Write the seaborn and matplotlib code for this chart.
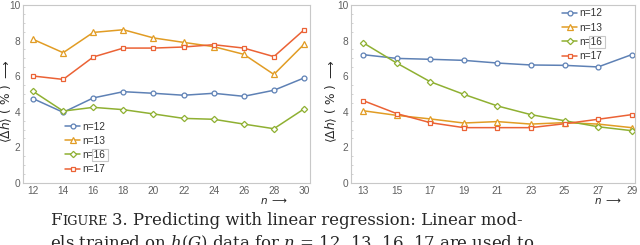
import matplotlib
matplotlib.use("Agg")
import matplotlib.pyplot as plt
import seaborn as sns
from matplotlib.ticker import MultipleLocator
from matplotlib.patches import Rectangle

# ---- data ----
series_labels = ["n=12", "n=13", "n=16", "n=17"]

x_left = [12, 14, 16, 18, 20, 22, 24, 26, 28, 30]
left_n12 = [4.74, 3.97, 4.78, 5.13, 5.04, 4.93, 5.04, 4.87, 5.21, 5.90]
left_n13 = [8.07, 7.32, 8.46, 8.61, 8.15, 7.90, 7.66, 7.23, 6.10, 7.79]
left_n16 = [5.15, 4.04, 4.25, 4.12, 3.88, 3.63, 3.58, 3.31, 3.05, 4.16]
left_n17 = [6.01, 5.82, 7.08, 7.58, 7.58, 7.64, 7.77, 7.58, 7.10, 8.60]

x_right = [13, 15, 17, 19, 21, 23, 25, 27, 29]
right_n12 = [7.21, 7.00, 6.95, 6.89, 6.74, 6.63, 6.61, 6.52, 7.21]
right_n13 = [4.06, 3.80, 3.60, 3.37, 3.45, 3.31, 3.39, 3.31, 3.11]
right_n16 = [7.88, 6.74, 5.69, 4.98, 4.33, 3.84, 3.50, 3.16, 2.94]
right_n17 = [4.63, 3.90, 3.39, 3.11, 3.11, 3.11, 3.33, 3.58, 3.84]

y_ticks = [0, 2, 4, 6, 8, 10]

caption_line2 = "els trained on $h(G)$ data for $n$ = 12, 13, 16, 17 are used to"

colors = ["#5E81B5", "#E19C24", "#8FB032", "#EB6235"]
markers = ["o", "^", "D", "s"]
msizes = [3.5, 4.0, 3.2, 3.4]

sns.set_style("white")
plt.rcParams["font.family"] = ["Liberation Sans", "DejaVu Sans"]
plt.rcParams["mathtext.fontset"] = "dejavusans"

W, H = 640, 245
fig = plt.figure(figsize=(6.4, 2.45), dpi=100)
ax1 = fig.add_axes([23 / W, 1 - 183 / H, (310 - 23) / W, 178 / H])
ax2 = fig.add_axes([351 / W, 1 - 183 / H, (635 - 351) / W, 178 / H])

frame_col = "#c8c8c8"
tick_col = "#606060"


def draw(ax, xs, ys_list, xlim, leg_anchor, ylab_x):
    for lab, ys, c, m, ms in zip(series_labels, ys_list, colors, markers, msizes):
        sns.lineplot(x=xs, y=ys, color=c, marker=m, markersize=ms,
                     markerfacecolor="white", markeredgecolor=c,
                     markeredgewidth=0.9, linewidth=1.1, ax=ax, label=lab)
    ax.set_xlim(*xlim)
    ax.set_ylim(0, 10)
    ax.set_xticks(xs)
    ax.set_yticks(y_ticks)
    ax.yaxis.set_minor_locator(MultipleLocator(0.5))
    ax.tick_params(axis="both", which="major", direction="in", length=3,
                   width=0.6, color="#b0b0b0", labelsize=7.3, labelcolor=tick_col, pad=2)
    ax.tick_params(axis="y", which="minor", direction="in", length=1.5,
                   width=0.5, color="#c0c0c0", left=True)
    ax.tick_params(axis="x", which="major", pad=2.5)
    for sp in ax.spines.values():
        sp.set_color(frame_col)
        sp.set_linewidth(0.8)
    ax.set_xlabel("")
    ax.set_ylabel(r"$\langle\Delta h\rangle$ ( % ) $\longrightarrow$",
                  fontsize=8.8, color="#2a2a2a", family="DejaVu Sans")
    ax.yaxis.set_label_coords(ylab_x, 0.46)
    handles, labels = ax.get_legend_handles_labels()
    leg = ax.legend(handles, labels, frameon=False, fontsize=7.3,
                    handlelength=1.5, handletextpad=0.25, labelspacing=0.42,
                    borderaxespad=0, borderpad=0, loc="upper left",
                    bbox_to_anchor=leg_anchor)
    for txt in leg.get_texts():
        txt.set_color("#333333")
    return leg


leg1 = draw(ax1, x_left, [left_n12, left_n13, left_n16, left_n17],
            (11.33, 30.4), ((65 - 23) / 287, (183 - 121.5) / 178), (14 - 23) / 287)
leg2 = draw(ax2, x_right, [right_n12, right_n13, right_n16, right_n17],
            (12.28, 29.2), ((562 - 351) / 284, (183 - 8.5) / 178), (339 - 351) / 284)

# x-axis labels "n ->"
for xr in (288, 622):
    fig.text(xr / W, 1 - 200.5 / H, r"$n$ $\longrightarrow$", ha="right", va="center",
             fontsize=7.5, color="#222222", family="DejaVu Sans")

# caption
cap_left, cap_right = 50, 522
base1 = 1 - 225 / H
base2 = 1 - 248 / H
t_F = fig.text(cap_left / W, base1, "F", family="DejaVu Serif", fontsize=11,
               ha="left", va="baseline")
t_IG = fig.text(0, base1, "IGURE", family="DejaVu Serif", fontsize=8.6,
                ha="left", va="baseline")
t_rest = fig.text(0, base1, "3. Predicting with linear regression: Linear mod-",
                  family="DejaVu Serif", fontsize=11, ha="left", va="baseline")
t_2 = fig.text(cap_left / W, base2, caption_line2, family="DejaVu Serif",
               fontsize=11, ha="left", va="baseline")
t_2.set_math_fontfamily("dejavuserif")

fig.canvas.draw()
r = fig.canvas.get_renderer()


def layout_caption(scale):
    t_F.set_fontsize(11 * scale)
    t_IG.set_fontsize(8.6 * scale)
    t_rest.set_fontsize(11 * scale)
    t_2.set_fontsize(11 * scale)
    eF = t_F.get_window_extent(r)
    t_IG.set_x((eF.x1 + 0.5) / W)
    eI = t_IG.get_window_extent(r)
    t_rest.set_x((eI.x1 + 4 * scale) / W)
    return t_rest.get_window_extent(r).x1


right = layout_caption(1.0)
scale = (cap_right - cap_left) / (right - cap_left)
layout_caption(scale)

# light box around "16" in each legend
for leg in (leg1, leg2):
    txt = leg.get_texts()[2]
    e = txt.get_window_extent(r)
    tmp = fig.text(0, 0, "16", fontsize=txt.get_fontsize(), family=txt.get_fontfamily())
    w16 = tmp.get_window_extent(r).width
    tmp.remove()
    fig.add_artist(Rectangle((e.x1 - w16 - 2, e.y0 - 1), w16 + 4, e.height + 2,
                             transform=None, fill=False, edgecolor="#c8c8c8",
                             linewidth=0.8, zorder=5))

fig.savefig("out.png", dpi=100)
